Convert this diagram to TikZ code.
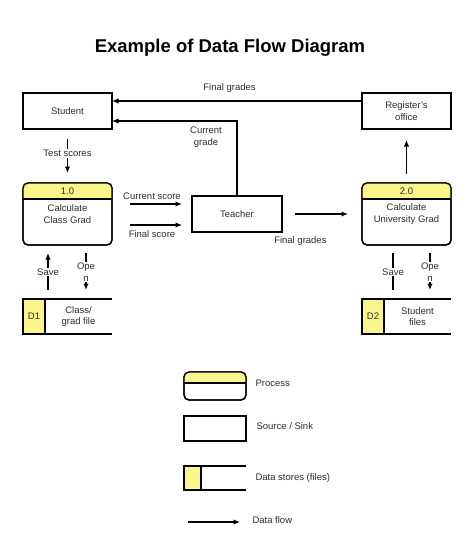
\documentclass[tikz,border=0pt]{standalone}
\usepackage{fontspec}
\setmainfont{Liberation Sans}
\usepackage{tikz}
\usetikzlibrary{arrows.meta}
\usetikzlibrary{positioning}
\definecolor{myellow}{RGB}{250, 246, 140}
\definecolor{mtext}{RGB}{45, 45, 45}
\tikzset{flow/.style = {->, >={Latex[length = 6.5pt, width = 5.5pt]}, line width = 1.2pt}}
\tikzset{lbl/.style = {font = \fontsize{9.5}{11.5}\selectfont, text = mtext, align = center}}
\tikzset{cut/.style = {lbl, fill = white, inner sep = 1pt}}
\tikzset{sink/.style = {draw, line width = 1.3pt, fill = white, minimum width = 89, minimum height = 36,
                        outer sep = 0, lbl}}
\tikzset{proc/.style = {sink, rounded corners = 5pt, minimum height = 62}}
\tikzset{storeid/.style = {draw, line width = 1.3pt, fill = myellow, minimum width = 22, minimum height = 35,
                           outer sep = 0, inner sep = 0, lbl}}
\tikzset{store/.style = {minimum width = 67, minimum height = 35, outer sep = 0, inner sep = 0, lbl}}

\begin{document}
\begin{tikzpicture}[x = 1pt, y = -1pt]
    \useasboundingbox [fill = white] (0, 0) rectangle (474, 551);

    \node [font = \bfseries\fontsize{18.5}{22}\selectfont] (title) at (230, 48) {Example of Data Flow Diagram};

    % sources and sinks
    \node [sink] (student) at (67.5, 111) {Student};
    \node [sink] (regoff) at (406.5, 111) {Register's\\office};
    \node [sink, minimum width = 90] (teacher) at (237, 214) {Teacher};

    % processes
    \foreach \name/\x/\num/\txt in {p1/67.5/1.0/Calculate\\Class Grad, p2/406.5/2.0/Calculate\\University Grad} {
      \node [proc] (\name) at (\x, 214) {\txt};
      \begin{scope}
        \clip [rounded corners = 5pt] (\name.south west) rectangle (\name.north east);
        \fill [myellow] (\name.north west) rectangle ([yshift = -16pt]\name.north east);
      \end{scope}
      \draw [line width = 1.3pt] ([yshift = -16pt]\name.north west) -- ([yshift = -16pt]\name.north east);
      \draw [line width = 1.3pt, rounded corners = 5pt] (\name.south west) rectangle (\name.north east);
      \node [lbl] (\name num) at ([yshift = -8pt]\name.north) {\num};
    }

    % data stores
    \node [storeid] (d1id) at (34, 316.5) {D1};
    \node [store, right = 0pt of d1id] (d1) {Class/\\grad file};
    \draw [line width = 1.3pt] (d1.north east) -- (d1id.north east) (d1id.south east) -- (d1.south east);
    \node [storeid] (d2id) at (373, 316.5) {D2};
    \node [store, right = 0pt of d2id] (d2) {Student\\files};
    \draw [line width = 1.3pt] (d2.north east) -- (d2id.north east) (d2id.south east) -- (d2.south east);

    % flows
    \draw [flow] ([yshift = 10pt]regoff.west) -- ([yshift = 10pt]student.east)
      node [lbl, above = 5pt, pos = 0.53] {Final grades};
    \draw [flow] (teacher.north) |- ([yshift = -10pt]student.east);
    \node [lbl, font = \fontsize{9.5}{12}\selectfont] (cgrade) at (206, 137) {Current\\grade};
    \draw [flow, shorten <= 10pt, shorten >= 10pt] (student.south) -- (p1.north)
      node [cut, pos = 0.45] {Test scores};
    \draw [flow, shorten <= 18pt, shorten >= 10pt] ([yshift = 10pt]p1.east) -- ([yshift = 10pt]teacher.west)
      node [lbl, above, pos = 0.5] {Current score};
    \draw [flow, shorten <= 18pt, shorten >= 10pt] ([yshift = -11pt]p1.east) -- ([yshift = -11pt]teacher.west)
      node [lbl, below = 2pt, pos = 0.5] {Final score};
    \draw [flow, shorten <= 13pt, shorten >= 14pt] (teacher.east) -- (p2.west)
      node [lbl, below = 19pt, pos = 0.23] {Final grades};
    \draw [flow, shorten <= 9pt, shorten >= 11pt] (p2.north) -- (regoff.south);

    % save / open
    \draw [flow, shorten <= 9pt, shorten >= 8pt] ([xshift = -19.5pt]p1.south |- d1.north) -- ([xshift = -19.5pt]p1.south)
      node [cut, midway] {Save};
    \draw [flow, shorten <= 8pt, shorten >= 9pt] ([xshift = 18.5pt]p1.south) -- ([xshift = 18.5pt]p1.south |- d1.north)
      node [cut, midway, font = \fontsize{9.5}{12}\selectfont] {Ope\\n};
    \draw [line width = 1.2pt, shorten <= 9pt, shorten >= 8pt] ([xshift = -13.5pt]p2.south |- d2.north) -- ([xshift = -13.5pt]p2.south)
      node [cut, midway] {Save};
    \draw [flow, shorten <= 8pt, shorten >= 9pt] ([xshift = 23.5pt]p2.south) -- ([xshift = 23.5pt]p2.south |- d2.north)
      node [cut, midway, font = \fontsize{9.5}{12}\selectfont] {Ope\\n};

    % legend
    \node [proc, minimum width = 62, minimum height = 28] (lproc) at (215, 386) {};
    \begin{scope}
      \clip [rounded corners = 5pt] (lproc.south west) rectangle (lproc.north east);
      \fill [myellow] (lproc.north west) rectangle ([yshift = -11pt]lproc.north east);
    \end{scope}
    \draw [line width = 1.3pt] ([yshift = -11pt]lproc.north west) -- ([yshift = -11pt]lproc.north east);
    \draw [line width = 1.3pt, rounded corners = 5pt] (lproc.south west) rectangle (lproc.north east);
    \node [lbl, anchor = west] (lproctxt) at (252, 383) {Process};

    \node [sink, minimum width = 62, minimum height = 25] (lsink) at (215, 428.5) {};
    \node [lbl, anchor = west] (lsinktxt) at (253, 426) {Source / Sink};

    \node [storeid, minimum width = 17, minimum height = 24] (lstid) at (192.5, 478) {};
    \node [store, minimum width = 45, minimum height = 24, right = 0pt of lstid] (lst) {};
    \draw [line width = 1.3pt] (lst.north east) -- (lstid.north east) (lstid.south east) -- (lst.south east);
    \node [lbl, anchor = west] (lsttxt) at (252, 478) {Data stores (files)};

    \coordinate (lfa) at (188, 522);
    \coordinate (lfb) at (240, 522);
    \draw [flow] (lfa) -- (lfb);
    \node [lbl, anchor = west] (lflowtxt) at (249, 520) {Data flow};
  \end{tikzpicture}
\end{document}
